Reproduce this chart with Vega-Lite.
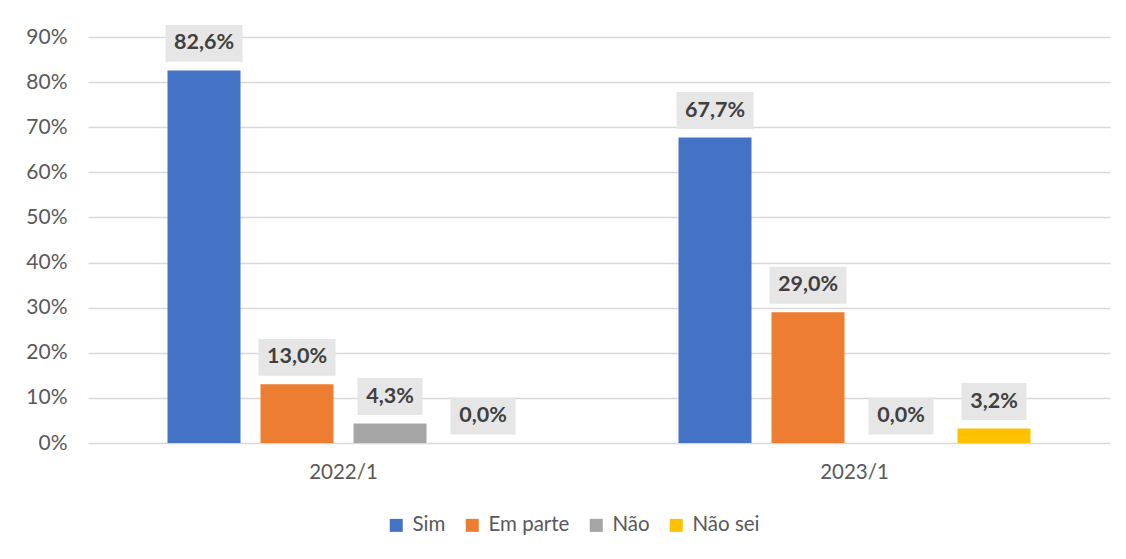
{
  "$schema": "https://vega.github.io/schema/vega-lite/v6.json",
  "autosize": {"type": "none"},
  "width": 1022,
  "height": 406,
  "padding": {"left": 88, "top": 37, "right": 16, "bottom": 116},
  "background": "white",
  "config": {
    "locale": {"number": {"decimal": ",", "thousands": ".", "grouping": [3], "currency": ["R$", ""]}},
    "view": {"stroke": null},
    "font": "Lato"
  },
  "data": {
    "values": [
      {"periodo": "2022/1", "resposta": "Sim", "valor": 0.826},
      {"periodo": "2022/1", "resposta": "Em parte", "valor": 0.13},
      {"periodo": "2022/1", "resposta": "Não", "valor": 0.043},
      {"periodo": "2022/1", "resposta": "Não sei", "valor": 0.0},
      {"periodo": "2023/1", "resposta": "Sim", "valor": 0.677},
      {"periodo": "2023/1", "resposta": "Em parte", "valor": 0.29},
      {"periodo": "2023/1", "resposta": "Não", "valor": 0.0},
      {"periodo": "2023/1", "resposta": "Não sei", "valor": 0.032}
    ]
  },
  "encoding": {
    "x": {
      "field": "periodo", "type": "nominal",
      "scale": {"paddingInner": 0, "paddingOuter": 0},
      "axis": {"title": null, "labelAngle": 0, "ticks": false, "domain": false, "labelFont": "Lato", "labelFontSize": 20.5, "labelColor": "#595959", "labelPadding": 19}
    },
    "xOffset": {
      "field": "resposta", "type": "nominal",
      "sort": ["Sim", "Em parte", "Não", "Não sei"],
      "scale": {"paddingInner": 0.215, "paddingOuter": 0.855}
    },
    "y": {
      "field": "valor", "type": "quantitative",
      "scale": {"domain": [0, 0.9], "nice": false},
      "axis": {"title": null, "format": ".0%", "values": [0, 0.1, 0.2, 0.3, 0.4, 0.5, 0.6, 0.7, 0.8, 0.9], "ticks": false, "domain": false, "gridColor": "#d9d9d9", "gridWidth": 1.5, "labelFont": "Lato", "labelFontSize": 21, "labelColor": "#595959", "labelPadding": 21}
    }
  },
  "layer": [
    {
      "mark": {"type": "bar"},
      "encoding": {
        "color": {
          "field": "resposta", "type": "nominal",
          "sort": ["Sim", "Em parte", "Não", "Não sei"],
          "scale": {"domain": ["Sim", "Em parte", "Não", "Não sei"], "range": ["#4472c4", "#ed7d31", "#a5a5a5", "#ffc000"]},
          "legend": {
            "title": null, "orient": "none", "direction": "horizontal",
            "legendX": 298, "legendY": 478,
            "symbolType": "square", "symbolSize": 169, "symbolStrokeWidth": 0,
            "labelFont": "Lato", "labelFontSize": 20.5, "labelColor": "#595959",
            "labelOffset": 6, "columnPadding": 16
          }
        }
      }
    },
    {
      "mark": {"type": "point", "filled": true, "opacity": 1, "yOffset": -27, "color": "#e7e6e6", "strokeWidth": 0},
      "encoding": {
        "shape": {"condition": {"test": "datum.valor >= 0.1", "value": "M-1,-0.48H1V0.48H-1Z"}, "value": "M-1,-0.569H1V0.569H-1Z"},
        "size": {"condition": {"test": "datum.valor >= 0.1", "value": 5929}, "value": 4225}
      }
    },
    {
      "mark": {"type": "text", "yOffset": -27, "baseline": "middle", "align": "center", "font": "Lato", "fontWeight": "bold", "fontSize": 21.5, "color": "#404040"},
      "encoding": {
        "text": {"field": "valor", "type": "quantitative", "format": ".1%"}
      }
    }
  ]
}
